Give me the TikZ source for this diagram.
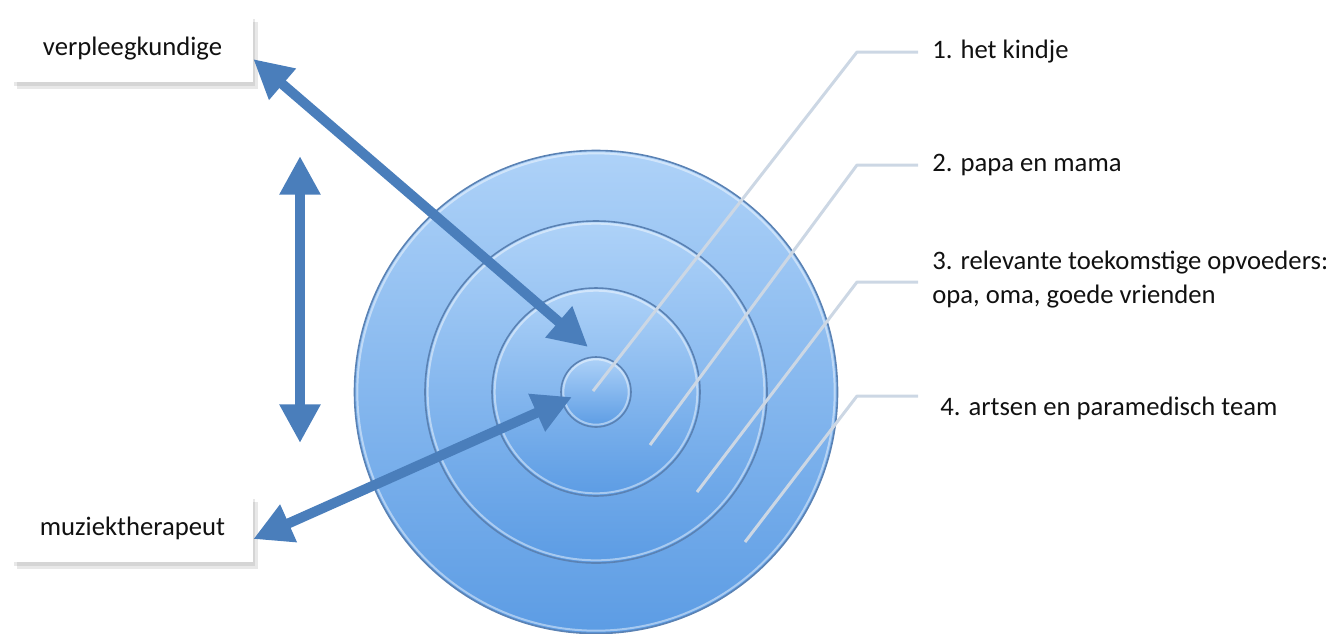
\documentclass[tikz,border=0pt]{standalone}
\usepackage{fontspec}
\setmainfont{Carlito}
\usetikzlibrary{arrows.meta,shadows}
\definecolor{arrowblue}{HTML}{4A7EBB}
\definecolor{ringtop}{HTML}{AED2F8}
\definecolor{ringbot}{HTML}{5C9CE4}
\definecolor{ringrim}{HTML}{5A82B4}
\definecolor{leader}{HTML}{CCD7E4}
\definecolor{txt}{HTML}{111111}
\begin{document}
\begin{tikzpicture}[x=0.75pt,y=-0.75pt,
  ring/.style={circle, inner sep=0pt, top color=ringtop, bottom color=ringbot, draw=ringrim, line width=1.2pt},
  glint/.style={circle, inner sep=0pt, draw=white, draw opacity=0.45, line width=1.5pt},
  rolebox/.style={fill=white, minimum width=180.75pt, minimum height=50.25pt, inner sep=0pt,
    drop shadow={shadow xshift=1.5pt, shadow yshift=-3pt, opacity=0.18},
    drop shadow={shadow xshift=3.5pt, shadow yshift=-5.5pt, opacity=0.18},
    font=\fontsize{20}{24}\selectfont, text=txt},
  lbl/.style={anchor=west, inner xsep=10.5pt, inner ysep=0pt, align=left,
    font=\fontsize{20}{25.5}\selectfont, text=txt},
  leaderline/.style={draw=leader, line width=2.25pt, line join=round},
  bigarrow/.style={draw=arrowblue, line width=7.5pt,
    {Triangle[width=29pt,length=29pt]}-{Triangle[width=29pt,length=29pt]}}
]
\useasboundingbox (0,0) rectangle (1326,633);

% concentric rings
\node[ring, minimum size=362.25pt] (r4) at (596,392) {};
\node[glint, minimum size=358pt] (g4) at (r4.center) {};
\node[ring, minimum size=256.5pt] (r3) at (596,392) {};
\node[glint, minimum size=252.5pt] (g3) at (r3.center) {};
\node[ring, minimum size=156pt] (r2) at (596,392) {};
\node[glint, minimum size=152pt] (g2) at (r2.center) {};
\node[ring, minimum size=52.5pt] (r1) at (596,392) {};
\node[glint, minimum size=49pt] (g1) at (r1.center) {};

% role boxes
\node[rolebox] (verp) at (132.5,48.5) {verpleegkundige};
\node[rolebox] (muz) at (132.5,528.5) {muziektherapeut};

% leader line ends and elbows
\coordinate (e1) at (593,391);
\coordinate (e2) at (650,445);
\coordinate (e3) at (697,492);
\coordinate (e4) at (745,542);
\coordinate (k1) at (857,52);
\coordinate (k2) at (857,165);
\coordinate (k3) at (857,282);
\coordinate (k4) at (857,396);

% labels
\node[lbl] (l1) at (918,52) {1. het kindje};
\node[lbl] (l2) at (918,165) {2. papa en mama};
\node[lbl] (l3) at (918,280) {3. relevante toekomstige opvoeders:\\opa, oma, goede vrienden};
\node[lbl, inner xsep=16.5pt] (l4) at (918,408) {4. artsen en paramedisch team};

\draw[leaderline] (e1) -- (k1) -- (l1.west);
\draw[leaderline] (e2) -- (k2) -- (l2.west);
\draw[leaderline] (e3) -- (k3) -- (l3.west |- k3);
\draw[leaderline] (e4) -- (k4) -- (l4.west |- k4);

% arrows
\coordinate (t1) at (588,347);
\coordinate (t2) at (572,397);
\coordinate (v1) at (300,156);
\coordinate (v2) at (300,443);
\draw[bigarrow] (verp.-5) -- (t1);
\draw[bigarrow] (muz.-5) -- (t2);
\draw[bigarrow] (v1) -- (v2);
\end{tikzpicture}
\end{document}
